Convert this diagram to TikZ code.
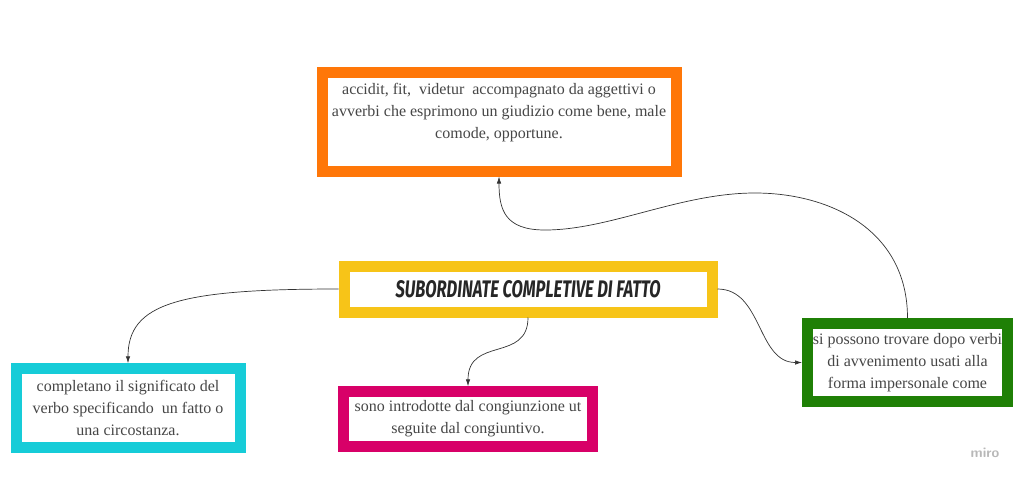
\documentclass[tikz,border=0pt]{standalone}
\usepackage{fontspec}
\setmainfont{Liberation Serif}
\newfontfamily\titlefont{Fira Sans}
\usetikzlibrary{arrows.meta}

\definecolor{orangebox}{RGB}{255,119,8}
\definecolor{yellowbox}{RGB}{247,196,24}
\definecolor{cyanbox}{RGB}{22,204,216}
\definecolor{magbox}{RGB}{216,0,104}
\definecolor{greenbox}{RGB}{31,128,6}
\definecolor{txtgray}{RGB}{70,70,70}

\tikzset{
  box/.style={draw=#1, line width=11pt, fill=white, inner sep=0pt,
    align=center, text=txtgray, font=\fontsize{16}{22}\selectfont},
  link/.style={draw=black!80, line width=0.7pt, -{Latex[length=7pt,width=4.5pt]}}
}

\begin{document}
\begin{tikzpicture}[x=1pt,y=-1pt]
  \useasboundingbox (0,0) rectangle (1024,482);

  % boxes
  \node[box=orangebox, minimum width=354pt, minimum height=99pt] (fit) at (499,121.5)
    {\parbox[c][99pt][t]{354pt}{\centering\vspace*{11pt}
      accidit, fit,\ \ videtur\ \ accompagnato da aggettivi o\\
      avverbi che esprimono un giudizio come bene, male\\
      comode, opportune.}};
  \node[box=yellowbox, minimum width=368pt, minimum height=46pt] (main) at (528,289)
    {\resizebox{265pt}{17pt}{\color{black!85}\titlefont\bfseries\itshape SUBORDINATE COMPLETIVE DI FATTO}};
  \node[box=cyanbox, minimum width=224pt, minimum height=78.5pt] (sig) at (128,408)
    {completano il significato del\\ verbo specificando\ \ un fatto o\\ una circostanza.};
  \node[box=magbox, minimum width=248.5pt, minimum height=54.5pt] (ut) at (468,419)
    {sono introdotte dal congiunzione ut\\ seguite dal congiuntivo.};
  \node[box=greenbox, minimum width=200pt, minimum height=78pt] (verbi) at (907.5,362.5)
    {si possono trovare dopo verbi\\ di avvenimento usati alla\\ forma impersonale come};

  % connectors
  \draw[link] (main.west) .. controls +(-160,0) and +(0,-60) .. (sig.north);
  \draw[link] (main.south) .. controls +(0,45) and +(0,-50) .. (ut.north);
  \draw[link] (main.east) .. controls +(45,0) and +(-45,0) .. (verbi.west);
  \draw[link] (verbi.north) .. controls +(0,-88) and (830,193) .. (755,193)
    .. controls (680,193) and (610,230) .. (545,230)
    .. controls (505,230) and (fit.south |- 0,210) .. (fit.south);

  % watermark
  \node[text=black!28, font=\sffamily\bfseries\fontsize{14}{14}\selectfont] (miro) at (985,453) {miro};
\end{tikzpicture}
\end{document}
